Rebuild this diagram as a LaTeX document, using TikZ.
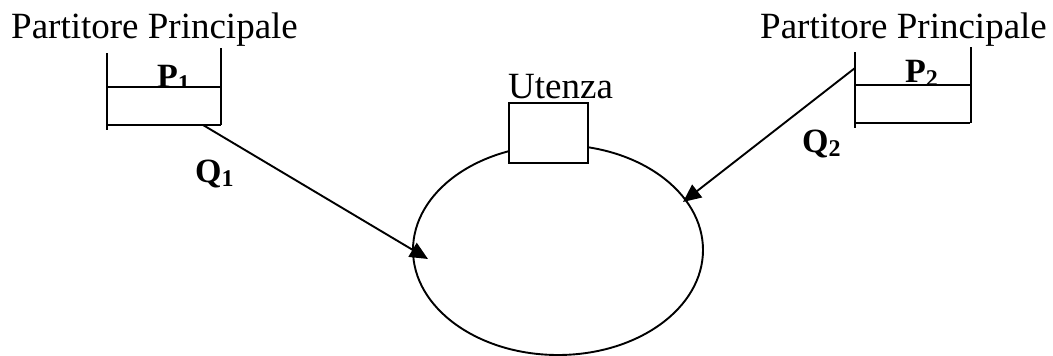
\documentclass[tikz,border=0pt]{standalone}
\usepackage{fontspec}
\setmainfont{Liberation Serif}
\usetikzlibrary{arrows.meta,shapes.geometric}
\tikzset{
  pipe/.style={line width=1.9pt},
  flow/.style={line width=1.9pt,-{Triangle[length=18pt,width=16pt]}},
  title/.style={inner sep=0pt,anchor=base west,font=\fontsize{37}{37}\selectfont},
  qlabel/.style={inner sep=0pt,anchor=base west,font=\fontsize{34}{34}\selectfont\bfseries},
  tankbody/.style={fill=white,draw=none,inner sep=0pt,minimum width=114pt,minimum height=38pt},
  userbox/.style={fill=white,draw,line width=1.9pt,inner sep=0pt,minimum width=79pt,minimum height=60pt},
  ring/.style={draw,ellipse,line width=1.9pt,inner sep=0pt,minimum width=290pt,minimum height=210pt}
}
\newcommand{\lowsub}[1]{\raisebox{-0.12em}{\fontsize{24}{24}\selectfont #1}}
\begin{document}
\begin{tikzpicture}[x=1pt,y=-1pt]
  \useasboundingbox (0,0) rectangle (1053,356);

  % headings
  \node[title] (h1) at (11,38) {Partitore Principale};
  \node[title] (h2) at (760,38) {Partitore Principale};

  % distribution ring with the user box on top
  \node[ring] (loop) at (558,250) {};
  \node[userbox] (user) at (548.5,133) {};
  \node[title] (ulab) at (508,98) {Utenza};

  % left tank
  \node[qlabel] (p1) at (157,87) {P\lowsub{1}};
  \node[tankbody] (tank1) at (164,106) {};
  \draw[pipe] (tank1.north west) -- (tank1.north east);
  \draw[pipe] (tank1.south west) -- (tank1.south east);
  \draw[pipe] (107,53) -- (107,130);
  \draw[pipe] (221,48) -- (221,125);

  % right tank
  \node[qlabel] (p2) at (905,82) {P\lowsub{2}};
  \node[tankbody] (tank2) at (913,104) {};
  \draw[pipe] (tank2.north west) -- (tank2.north east);
  \draw[pipe] (tank2.south west) -- (tank2.south east);
  \draw[pipe] (855,52) -- (855,128);
  \draw[pipe] (971,47) -- (971,123);

  % flows into the ring
  \coordinate (out1) at (203,125);
  \coordinate (in1) at (428,259);
  \coordinate (out2) at (855,68);
  \coordinate (in2) at (683,202);
  \draw[flow] (out1) -- (in1);
  \draw[flow] (out2) -- (in2);

  \node[qlabel] (q1) at (195,182) {Q\lowsub{1}};
  \node[qlabel] (q2) at (802,152) {Q\lowsub{2}};
\end{tikzpicture}
\end{document}
